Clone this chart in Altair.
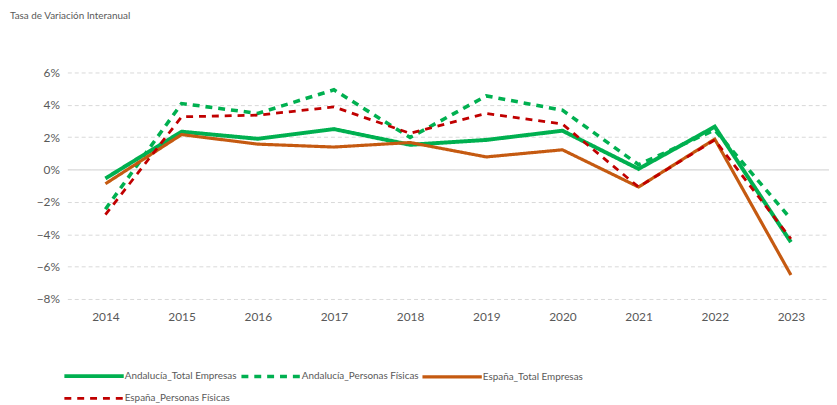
import altair as alt
import pandas as pd

years = ["2014", "2015", "2016", "2017", "2018", "2019", "2020", "2021", "2022", "2023"]
series_names = ["Andalucía_Total Empresas", "Andalucía_Personas Físicas",
                "España_Total Empresas", "España_Personas Físicas"]
and_total = [-0.55, 2.34, 1.90, 2.50, 1.53, 1.83, 2.40, 0.04, 2.65, -4.49]
and_pf = [-2.45, 4.08, 3.47, 4.93, 1.98, 4.55, 3.67, 0.30, 2.45, -3.06]
esp_total = [-0.88, 2.16, 1.57, 1.39, 1.67, 0.78, 1.22, -1.08, 1.88, -6.52]
esp_pf = [-2.79, 3.26, 3.36, 3.87, 2.24, 3.47, 2.81, -1.08, 1.83, -4.28]
y_ticks = [-8, -6, -4, -2, 0, 2, 4, 6]

rows = []
for name, vals in zip(series_names, [and_total, and_pf, esp_total, esp_pf]):
    for yr, v in zip(years, vals):
        rows.append({"year": yr, "serie": name, "value": v / 100})
df = pd.DataFrame(rows)

FONT = "Lato"
GREY = "#595959"

legend = alt.Legend(
    title=None, orient="none", legendX=15, legendY=295, direction="horizontal",
    columns=3, symbolType="M-3,0H3", symbolSize=400, labelFont=FONT,
    labelFontSize=10, labelColor=GREY, labelOffset=19, columnPadding=-4,
    rowPadding=3, symbolOffset=0,
)

yscale = alt.Scale(domain=[-0.08, 0.06], nice=False)

chart = alt.Chart(df).mark_line(strokeJoin="miter", strokeCap="butt").encode(
    x=alt.X("year:O", sort=years, scale=alt.Scale(paddingOuter=0.5, paddingInner=0),
            axis=alt.Axis(title=None, labelAngle=0, domain=False, ticks=False,
                          labelFont=FONT, labelFontSize=12, labelColor=GREY,
                          labelPadding=13, grid=False)),
    y=alt.Y("value:Q", scale=yscale,
            axis=alt.Axis(title=None, values=[t / 100 for t in y_ticks], format=".0%",
                          domain=False, ticks=False, labelFont=FONT, labelFontSize=12,
                          labelColor=GREY, labelPadding=8, grid=True, labelOverlap=False,
                          gridColor=alt.condition("datum.value == 0", alt.value("#c8c8c8"),
                                                  alt.value("#d9d9d9")),
                          gridDash=alt.condition("datum.value == 0", alt.value([1, 0]),
                                                 alt.value([4, 3])),
                          gridWidth=1)),
    color=alt.Color("serie:N", scale=alt.Scale(domain=series_names,
                    range=["#00B050", "#00B050", "#C55A11", "#C00000"]), legend=legend),
    strokeDash=alt.StrokeDash("serie:N", scale=alt.Scale(domain=series_names,
                    range=[[1, 0], [7, 6], [1, 0], [7, 6]]), legend=legend),
    strokeWidth=alt.StrokeWidth("serie:N", scale=alt.Scale(domain=series_names,
                    range=[4, 2.8, 4, 2.8]), legend=legend),
).properties(
    width=770, height=229,
    autosize=alt.AutoSizeParams(type="none"),
    padding={"left": 60, "top": 63, "right": 0, "bottom": 104},
    title=alt.TitleParams("Tasa de Variación Interanual", anchor="start", frame="group",
                          dx=-58, offset=46, font=FONT, fontSize=10, fontWeight="normal",
                          color=GREY),
).configure_view(stroke=None)

chart.save("out.html", embed_options={"renderer": "svg", "actions": False})
